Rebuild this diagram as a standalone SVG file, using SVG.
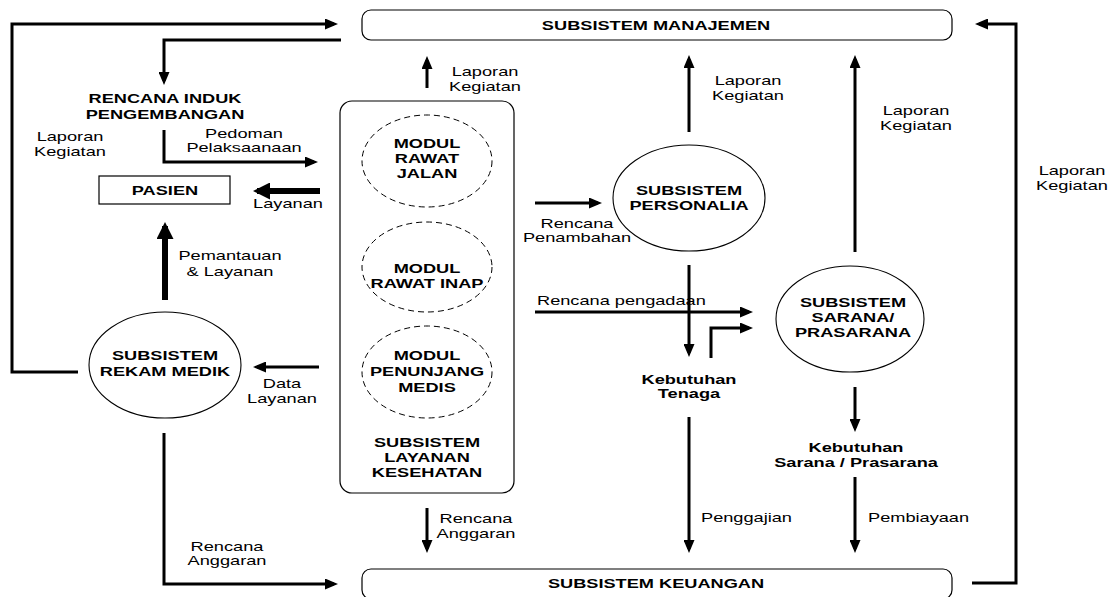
<svg xmlns="http://www.w3.org/2000/svg" width="1112" height="597" viewBox="0 0 1112 597">
<style>
text{font-family:"Liberation Sans",Arial,sans-serif;font-size:13px;fill:#000}
.b{font-weight:bold}
.m{text-anchor:middle}
.ln{fill:none;stroke:#000;stroke-width:3;marker-end:url(#ah)}
.tk{fill:none;stroke:#000;stroke-width:6;marker-end:url(#ahb)}
.plain{fill:none;stroke:#000;stroke-width:3}
.box{fill:#fff;stroke:#000;stroke-width:1.2}
.el{fill:#fff;stroke:#000;stroke-width:1.1}
.dash{fill:none;stroke:#000;stroke-width:1;stroke-dasharray:6 4}
</style>
<defs>
<marker id="ah" markerUnits="userSpaceOnUse" markerWidth="13" markerHeight="11" refX="9" refY="5.5" orient="auto"><path d="M0,0 L13,5.5 L0,11 z" fill="#000"/></marker>
<marker id="ahb" markerUnits="userSpaceOnUse" markerWidth="17" markerHeight="17" refX="13" refY="8.5" orient="auto"><path d="M0,0 L17,8.5 L0,17 z" fill="#000"/></marker>
</defs>

<g id="connectors">
<path class="ln" d="M78,372 H12 V24 H334"/>
<path class="ln" d="M341,40 H164 V81"/>
<path class="ln" d="M164,130 V162 H314"/>
<path class="tk" d="M320,191 H257"/>
<path class="tk" d="M165,300 V226"/>
<path class="ln" d="M319,367 H257"/>
<path class="ln" d="M164,433 V584 H334"/>
<path class="ln" d="M427,88 V60"/>
<path class="ln" d="M427,508 V549"/>
<path class="ln" d="M535,203 H598"/>
<path class="ln" d="M689,132 V59"/>
<path class="ln" d="M689,265 V353"/>
<path class="ln" d="M535,312 H749"/>
<path class="ln" d="M711,358 V328 H749"/>
<path class="ln" d="M689,417 V549"/>
<path class="ln" d="M855,252 V59"/>
<path class="ln" d="M855,387 V428"/>
<path class="ln" d="M855,477 V549"/>
<path class="ln" d="M972,583 H1016 V24 H979"/>
</g>

<g id="labels">
<text class="m" transform="translate(70,141) scale(1.4,1)">Laporan</text>
<text class="m" transform="translate(70,156) scale(1.4,1)">Kegiatan</text>
<text class="m" transform="translate(244,138) scale(1.4,1)">Pedoman</text>
<text class="m" transform="translate(244,152) scale(1.4,1)">Pelaksaanaan</text>
<text class="m" transform="translate(288,208) scale(1.4,1)">Layanan</text>
<text class="m" transform="translate(230,260) scale(1.4,1)">Pemantauan</text>
<text class="m" transform="translate(230,276) scale(1.4,1)">&amp; Layanan</text>
<text class="m" transform="translate(282,388) scale(1.4,1)">Data</text>
<text class="m" transform="translate(282,403) scale(1.4,1)">Layanan</text>
<text class="m" transform="translate(227,551) scale(1.4,1)">Rencana</text>
<text class="m" transform="translate(227,565) scale(1.4,1)">Anggaran</text>
<text class="m" transform="translate(485,76) scale(1.4,1)">Laporan</text>
<text class="m" transform="translate(485,91) scale(1.4,1)">Kegiatan</text>
<text class="m" transform="translate(476,523) scale(1.4,1)">Rencana</text>
<text class="m" transform="translate(476,538) scale(1.4,1)">Anggaran</text>
<text class="m" transform="translate(577,228) scale(1.4,1)">Rencana</text>
<text class="m" transform="translate(577,242) scale(1.4,1)">Penambahan</text>
<text transform="translate(537,305) scale(1.4,1)">Rencana pengadaan</text>
<text class="m" transform="translate(748,85) scale(1.4,1)">Laporan</text>
<text class="m" transform="translate(748,100) scale(1.4,1)">Kegiatan</text>
<text class="m" transform="translate(916,115) scale(1.4,1)">Laporan</text>
<text class="m" transform="translate(916,130) scale(1.4,1)">Kegiatan</text>
<text class="m" transform="translate(1072,175) scale(1.4,1)">Laporan</text>
<text class="m" transform="translate(1072,190) scale(1.4,1)">Kegiatan</text>
<text transform="translate(701,522) scale(1.4,1)">Penggajian</text>
<text transform="translate(868,522) scale(1.4,1)">Pembiayaan</text>
</g>

<g id="manajemen">
<rect class="box" x="362" y="10" width="590" height="30" rx="9"/>
<text class="b m" transform="translate(656,30) scale(1.4,1)">SUBSISTEM MANAJEMEN</text>
</g>

<g id="keuangan">
<rect class="box" x="362" y="569" width="590" height="30" rx="9"/>
<text class="b m" transform="translate(656,588) scale(1.4,1)">SUBSISTEM KEUANGAN</text>
</g>

<g id="rencana-induk">
<text class="b m" transform="translate(165,103) scale(1.4,1)">RENCANA INDUK</text>
<text class="b m" transform="translate(165,119) scale(1.4,1)">PENGEMBANGAN</text>
</g>

<g id="pasien">
<rect class="box" x="99" y="176" width="131" height="28"/>
<text class="b m" transform="translate(165,195) scale(1.4,1)">PASIEN</text>
</g>

<g id="layanan-kesehatan">
<rect class="box" x="340" y="101" width="174" height="392" rx="12"/>
<text class="b m" transform="translate(427,447) scale(1.4,1)">SUBSISTEM</text>
<text class="b m" transform="translate(427,462) scale(1.4,1)">LAYANAN</text>
<text class="b m" transform="translate(427,477) scale(1.4,1)">KESEHATAN</text>
</g>

<g id="modul-rawat-jalan">
<ellipse class="dash" cx="427" cy="161" rx="65" ry="46"/>
<text class="b m" transform="translate(427,148) scale(1.4,1)">MODUL</text>
<text class="b m" transform="translate(427,163) scale(1.4,1)">RAWAT</text>
<text class="b m" transform="translate(427,178) scale(1.4,1)">JALAN</text>
</g>

<g id="modul-rawat-inap">
<ellipse class="dash" cx="427" cy="267" rx="65" ry="45"/>
<text class="b m" transform="translate(427,273) scale(1.4,1)">MODUL</text>
<text class="b m" transform="translate(427,288) scale(1.4,1)">RAWAT INAP</text>
</g>

<g id="modul-penunjang-medis">
<ellipse class="dash" cx="427" cy="372" rx="65" ry="46"/>
<text class="b m" transform="translate(427,360) scale(1.4,1)">MODUL</text>
<text class="b m" transform="translate(427,376) scale(1.4,1)">PENUNJANG</text>
<text class="b m" transform="translate(427,392) scale(1.4,1)">MEDIS</text>
</g>

<g id="rekam-medik">
<ellipse class="el" cx="165" cy="365" rx="76" ry="53"/>
<text class="b m" transform="translate(165,360) scale(1.4,1)">SUBSISTEM</text>
<text class="b m" transform="translate(165,376) scale(1.4,1)">REKAM MEDIK</text>
</g>

<g id="personalia">
<ellipse class="el" cx="689" cy="198" rx="76" ry="53"/>
<text class="b m" transform="translate(689,195) scale(1.4,1)">SUBSISTEM</text>
<text class="b m" transform="translate(689,210) scale(1.4,1)">PERSONALIA</text>
</g>

<g id="sarana-prasarana">
<ellipse class="el" cx="850" cy="319" rx="74" ry="53"/>
<text class="b m" transform="translate(853,307) scale(1.4,1)">SUBSISTEM</text>
<text class="b m" transform="translate(853,322) scale(1.4,1)">SARANA/</text>
<text class="b m" transform="translate(853,337) scale(1.4,1)">PRASARANA</text>
</g>

<g id="kebutuhan-tenaga">
<text class="b m" transform="translate(689,384) scale(1.4,1)">Kebutuhan</text>
<text class="b m" transform="translate(689,398) scale(1.4,1)">Tenaga</text>
</g>

<g id="kebutuhan-sarana">
<text class="b m" transform="translate(856,452) scale(1.4,1)">Kebutuhan</text>
<text class="b m" transform="translate(856,467) scale(1.4,1)">Sarana / Prasarana</text>
</g>
</svg>
